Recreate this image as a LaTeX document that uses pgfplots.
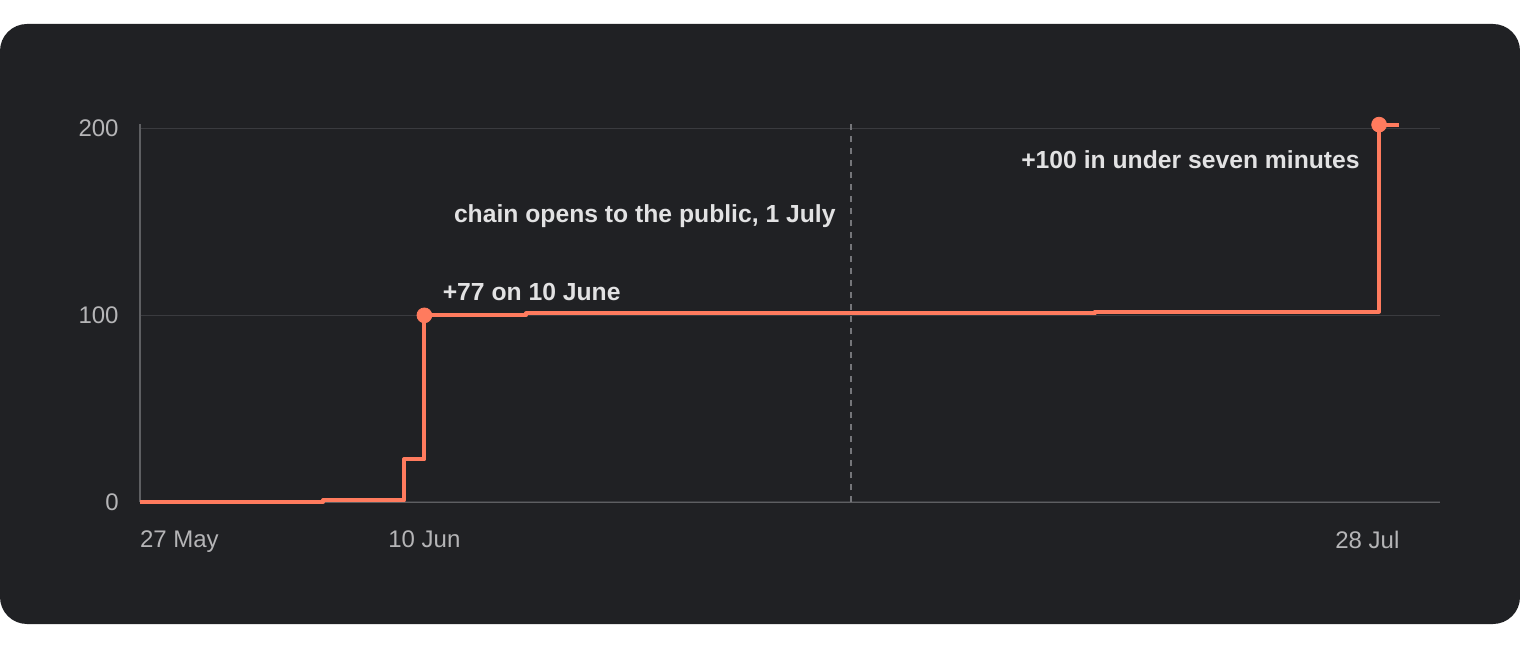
\documentclass[border=0pt]{standalone}
\usepackage{pgfplots}
\pgfplotsset{compat=1.18}
\usepackage{fontspec}
\setmainfont{Liberation Sans}

\definecolor{panel}{HTML}{202124}
\definecolor{coral}{HTML}{FF7B5E}
\definecolor{gridc}{HTML}{3A3B3F}
\definecolor{axisc}{HTML}{5E5F62}
\definecolor{ticklab}{HTML}{B5B5B7}
\definecolor{annot}{HTML}{E2E2E3}
\definecolor{dashc}{HTML}{75767A}

\begin{document}
\begin{tikzpicture}
\path[use as bounding box] (0,0) rectangle (760pt,324pt);
\fill[white] (0,0) rectangle (760pt,324pt);
\fill[panel, rounded corners=13.5pt] (0,12pt) rectangle (760pt,312pt);
\begin{axis}[
    at={(70pt,72.85pt)}, anchor=south west,
    scale only axis, width=650pt, height=189.3pt,
    xmin=0, xmax=64, ymin=0, ymax=202.5,
    axis x line=bottom, axis y line=left,
    axis line style={-, draw=axisc, line width=0.6pt},
    major tick length=0,
    ytick={0,100,200},
    xtick={0,14,62},
    xticklabels={{\makebox[0pt][l]{27 May}}, 10 Jun, {\makebox[0pt][r]{28 Jul}}},
    /pgf/number format/assume math mode=true,
    ymajorgrids, grid style={draw=gridc, line width=0.8pt},
    tick label style={font=\fontsize{12}{14}\selectfont, text=ticklab, inner sep=0pt},
    yticklabel style={anchor=east, xshift=-10.5pt},
    xticklabel style={anchor=north, yshift=-14pt},
    clip=false,
]
% opening of the chain to the public
\addplot[draw=dashc, line width=0.7pt, dash pattern=on 3pt off 3pt]
    coordinates {(35,0) (35,202.5)};
% cumulative count, step line
\addplot[const plot, draw=coral, line width=2pt, line join=round]
    table {
x     y
0     0
9     1
13    23
14    100
19    101
47    102
61    202
62    202
};
% highlighted jumps
\addplot[only marks, mark=*, mark size=3.7pt, color=coral]
    coordinates {(14,100) (61,202)};
\node[anchor=east, text=annot, font=\bfseries\fontsize{12.35}{14}\selectfont, inner sep=0pt]
    at (axis cs:35,153) [xshift=-7.5pt] {chain opens to the public, 1 July};
\node[anchor=west, text=annot, font=\bfseries\fontsize{12.35}{14}\selectfont, inner sep=0pt]
    at (axis cs:14,112.5) [xshift=9pt] {+77 on 10 June};
\node[anchor=east, text=annot, font=\bfseries\fontsize{12.35}{14}\selectfont, inner sep=0pt]
    at (axis cs:61,183) [xshift=-9.5pt] {+100 in under seven minutes};
\end{axis}
\end{tikzpicture}
\end{document}
